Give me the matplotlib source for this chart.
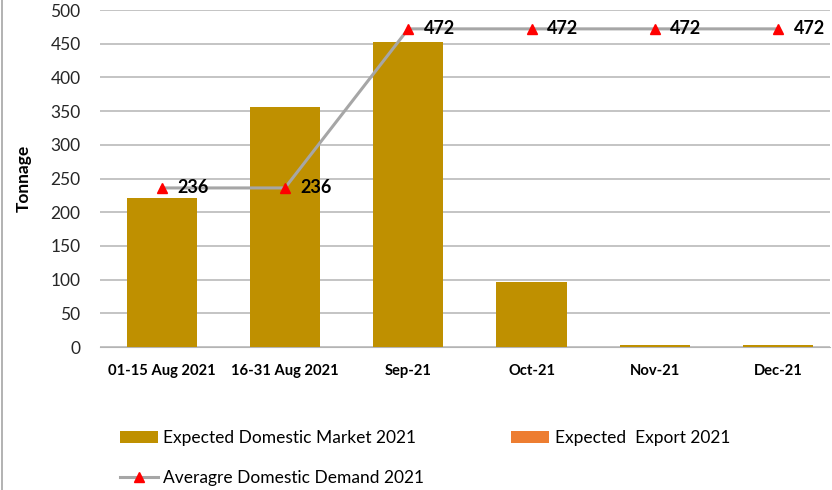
import matplotlib.pyplot as plt
import numpy as np

plt.rcParams['font.family'] = ['Lato', 'DejaVu Sans']

periods = ['01-15 Aug 2021', '16-31 Aug 2021', 'Sep-21', 'Oct-21', 'Nov-21', 'Dec-21']
domestic = [221, 356, 452, 97, 3, 3]
export = [0, 0, 0, 0, 0, 0]
avg_demand = [236, 236, 472, 472, 472, 472]

fig = plt.figure(figsize=(8.32, 4.9), dpi=100)
ax = fig.add_axes([100 / 832, 143 / 490, 730 / 832, 337 / 490])

x = np.arange(len(periods))
bars = ax.bar(x, domestic, width=0.57, color='#BF9000', zorder=2,
              label='Expected Domestic Market 2021')
exp_bars = ax.bar(x, export, width=0.57, bottom=domestic, color='#ED7D31',
                  zorder=2, label='Expected  Export 2021')
line, = ax.plot(x, avg_demand, color='#A6A6A6', lw=2.2, marker='^',
                markersize=7, markerfacecolor='#FF0000', markeredgecolor='#FF0000',
                zorder=3, label='Averagre Domestic Demand 2021')

for xi, v in zip(x, avg_demand):
    ax.annotate(str(v), (xi, v), xytext=(11, 0), textcoords='offset points',
                va='center', ha='left', fontsize=13, fontweight='bold', zorder=4)

ax.set_xlim(-0.5, len(periods) - 0.58)
ax.set_ylim(0, 500)
ax.set_yticks(range(0, 501, 50))
ax.yaxis.grid(True, color='#B4B4B4', lw=1.1)
ax.set_axisbelow(True)
for s in ['top', 'right', 'left']:
    ax.spines[s].set_visible(False)
ax.spines['bottom'].set_color('#B4B4B4')
ax.spines['bottom'].set_zorder(1)

ax.set_xticks(x)
ax.set_xticklabels(periods, fontsize=10.6, fontweight='bold')
ax.tick_params(axis='x', length=0, pad=12)
ax.tick_params(axis='y', length=0, pad=14, labelsize=12.5, labelcolor='#262626')
ax.set_ylabel('Tonnage', fontsize=12.5, fontweight='bold', labelpad=13)

fig.legend(handles=[bars, line, exp_bars], ncol=2, loc='upper left',
           bbox_to_anchor=(120 / 832, 1 - 430 / 490), frameon=False,
           fontsize=12.5, handlelength=2.2, handletextpad=0.3,
           columnspacing=5.0, labelspacing=1.4, borderpad=0, borderaxespad=0)

# chart area frame edge on the left
fig.add_artist(plt.Line2D([1.5 / 832, 1.5 / 832], [0, 1], color='#A6A6A6', lw=1.2))

fig.savefig('out.png', dpi=100)
